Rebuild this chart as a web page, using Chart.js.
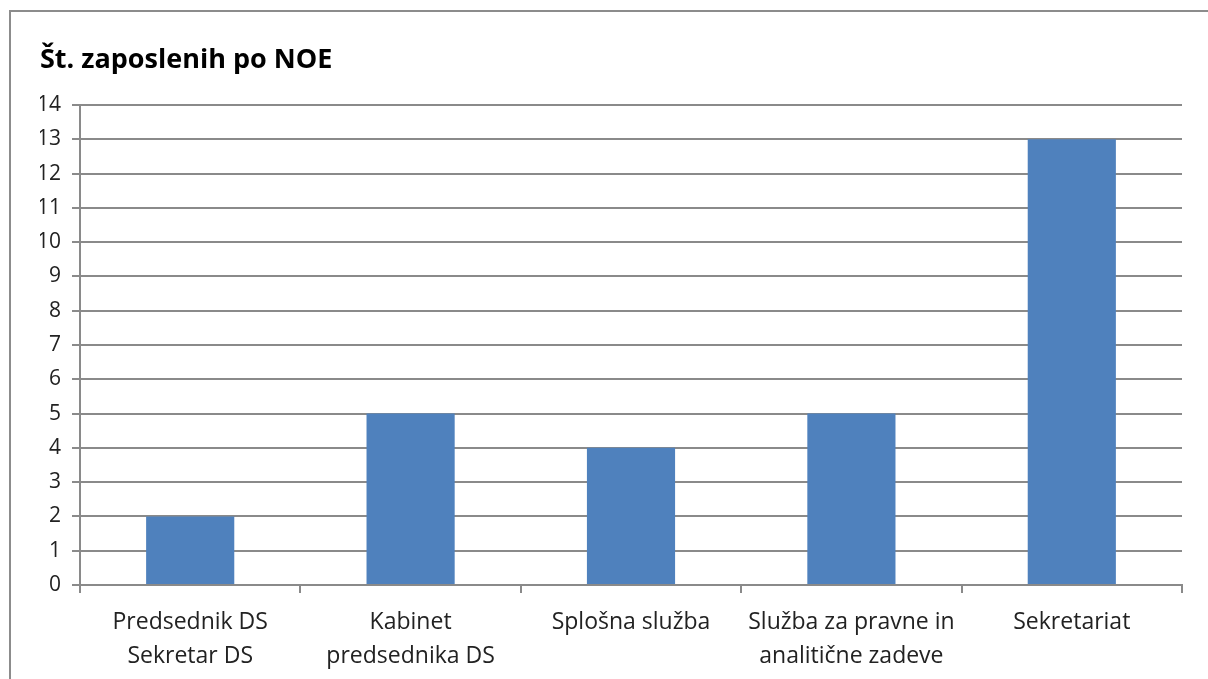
<!DOCTYPE html>
<html>
<head>
<meta charset="utf-8">
<script src="https://cdn.jsdelivr.net/npm/chart.js@4"></script>
<style>
  html, body { margin: 0; padding: 0; background: #fff; overflow: hidden; }
  #frame {
    position: absolute; left: 9px; top: 10px; width: 1300px; height: 800px;
    border-left: 2px solid #8c8c8c; border-top: 2px solid #8c8c8c;
  }
  #chart { position: absolute; left: 0; top: 0; }
</style>
</head>
<body>
<div id="frame"></div>
<canvas id="chart" width="1208" height="679"></canvas>
<script>
const categories = [
  ["Predsednik DS", "Sekretar DS"],
  ["Kabinet", "predsednika DS"],
  "Splošna služba",
  ["Služba za pravne in", "analitične zadeve"],
  "Sekretariat",
];
const employees = [2, 5, 4, 5, 13];
const yTicks = { min: 0, max: 14, step: 1 };

const gridColor = "#8a8a8a";
const fontFamily = "'Open Sans', Lato, sans-serif";

new Chart(document.getElementById("chart"), {
  type: "bar",
  data: {
    labels: categories,
    datasets: [
      {
        label: "Št. zaposlenih",
        data: employees,
        backgroundColor: "#4f81bd",
        barPercentage: 0.4,
        categoryPercentage: 1.0,
      },
    ],
  },
  options: {
    responsive: false,
    animation: false,
    layout: { padding: { left: 40, right: 26, top: 0, bottom: 0 } },
    plugins: {
      legend: { display: false },
      tooltip: { enabled: false },
      title: {
        display: true,
        text: "Št. zaposlenih po NOE",
        align: "start",
        color: "#000",
        font: { family: fontFamily, size: 27, weight: "bold", lineHeight: 1.2 },
        padding: { top: 44, bottom: 28.6 },
      },
    },
    scales: {
      x: {
        offset: true,
        grid: {
          offset: true,
          drawOnChartArea: false,
          color: gridColor,
          lineWidth: 2,
          tickLength: 8,
        },
        border: { color: gridColor, width: 2 },
        ticks: {
          color: "#222",
          padding: 12,
          maxRotation: 0,
          autoSkip: false,
          font: { family: fontFamily, size: 23, lineHeight: 1.48 },
        },
        afterFit: (scale) => { scale.height = 94; },
      },
      y: {
        min: yTicks.min,
        max: yTicks.max,
        grid: { color: gridColor, lineWidth: 2, tickLength: 8 },
        border: { color: gridColor, width: 2 },
        ticks: {
          stepSize: yTicks.step,
          color: "#222",
          padding: 11,
          font: { family: fontFamily, size: 21 },
        },
        afterFit: (scale) => { scale.width = 40; },
      },
    },
  },
});
</script>
</body>
</html>
